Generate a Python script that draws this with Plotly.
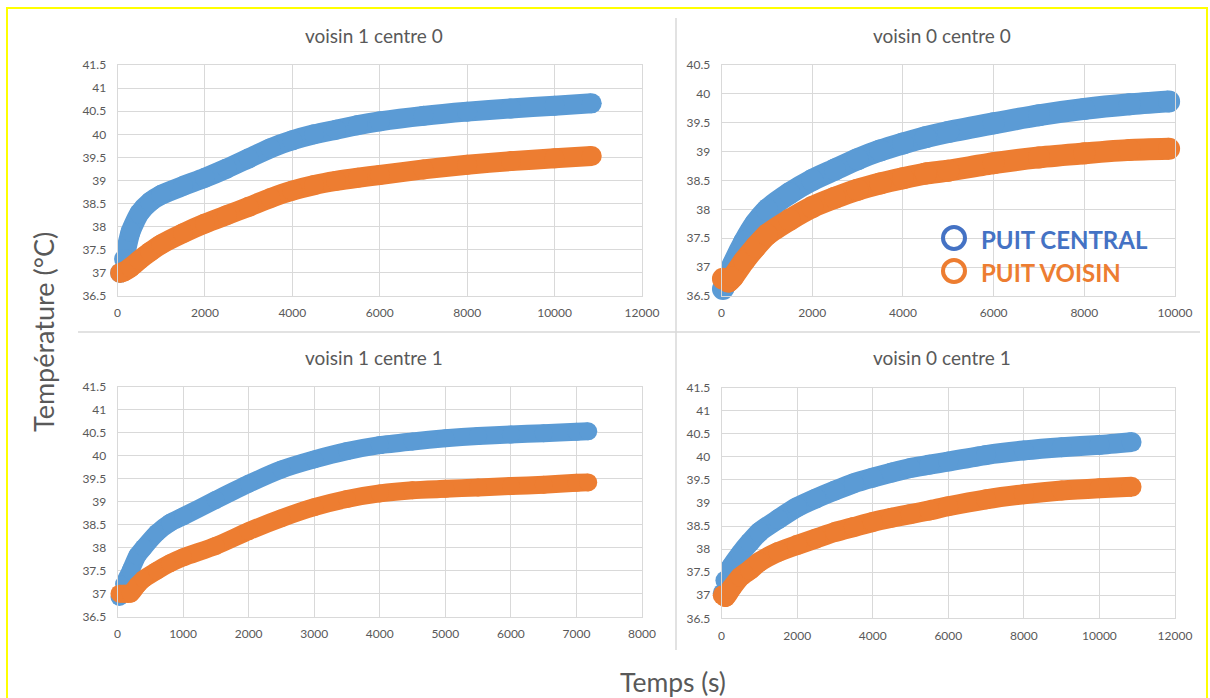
import plotly.graph_objects as go

# ---------------- data ----------------
panel_titles = ["voisin 1 centre 0", "voisin 0 centre 0", "voisin 1 centre 1", "voisin 0 centre 1"]
series_names = ["PUIT CENTRAL", "PUIT VOISIN"]

# voisin 1 centre 0
time_v1c0 = [60, 150, 300, 500, 750, 1000, 1500, 2000, 2500, 3000, 3500, 4000, 4500, 5000,
             5500, 6000, 7000, 8000, 9000, 10000, 10850]
central_v1c0 = [37.0, 37.30, 37.89, 38.29, 38.54, 38.69, 38.88, 39.06, 39.26, 39.48, 39.70, 39.87,
                40.00, 40.10, 40.20, 40.28, 40.40, 40.49, 40.56, 40.62, 40.67]
voisin_v1c0 = [37.0, 37.03, 37.12, 37.28, 37.46, 37.62, 37.86, 38.07, 38.25, 38.43, 38.62, 38.78,
               38.90, 38.99, 39.06, 39.12, 39.24, 39.34, 39.42, 39.48, 39.53]

# voisin 0 centre 0
time_v0c0 = [30, 150, 250, 500, 750, 1000, 1500, 2000, 2500, 3000, 3500, 4000, 4500, 5000,
             6000, 7000, 8000, 9000, 9870]
central_v0c0 = [36.62, 36.83, 37.04, 37.44, 37.76, 37.99, 38.28, 38.51, 38.69, 38.87, 39.02, 39.14,
                39.25, 39.34, 39.49, 39.63, 39.74, 39.82, 39.87]
voisin_v0c0 = [36.80, 36.75, 36.83, 37.11, 37.35, 37.56, 37.82, 38.04, 38.20, 38.34, 38.45, 38.54,
               38.62, 38.67, 38.80, 38.90, 38.97, 39.03, 39.05]

# voisin 1 centre 1
time_v1c1 = [30, 100, 200, 300, 400, 600, 800, 1000, 1500, 2000, 2500, 3000, 3500, 4000, 4500,
             5000, 5500, 6000, 6500, 7000, 7180]
central_v1c1 = [36.93, 37.21, 37.50, 37.82, 38.00, 38.32, 38.54, 38.68, 39.04, 39.39, 39.70, 39.92,
                40.10, 40.23, 40.31, 40.38, 40.43, 40.46, 40.49, 40.52, 40.53]
voisin_v1c1 = [37.0, 37.0, 37.0, 37.18, 37.32, 37.50, 37.66, 37.79, 38.04, 38.36, 38.64, 38.88,
               39.06, 39.18, 39.25, 39.28, 39.31, 39.34, 39.37, 39.41, 39.42]

# voisin 0 centre 1
time_v0c1 = [30, 100, 250, 500, 750, 1000, 1500, 2000, 2500, 3000, 3500, 4000, 4500, 5000, 5500,
             6000, 7000, 8000, 9000, 10000, 10850]
central_v0c1 = [37.04, 37.32, 37.61, 37.90, 38.15, 38.37, 38.65, 38.91, 39.10, 39.27, 39.43, 39.55,
                39.66, 39.76, 39.83, 39.90, 40.04, 40.14, 40.21, 40.26, 40.32]
voisin_v0c1 = [37.0, 36.96, 37.14, 37.40, 37.55, 37.72, 37.94, 38.09, 38.23, 38.37, 38.48, 38.59,
               38.68, 38.76, 38.84, 38.93, 39.08, 39.19, 39.27, 39.32, 39.35]

# tick labels
y_ticks_415 = [36.5, 37, 37.5, 38, 38.5, 39, 39.5, 40, 40.5, 41, 41.5]
y_labels_415 = ["36.5", "37", "37.5", "38", "38.5", "39", "39.5", "40", "40.5", "41", "41.5"]
y_ticks_405 = [36.5, 37, 37.5, 38, 38.5, 39, 39.5, 40, 40.5]
y_labels_405 = ["36.5", "37", "37.5", "38", "38.5", "39", "39.5", "40", "40.5"]
x_ticks_12000 = [0, 2000, 4000, 6000, 8000, 10000, 12000]
x_labels_12000 = ["0", "2000", "4000", "6000", "8000", "10000", "12000"]
x_ticks_10000 = [0, 2000, 4000, 6000, 8000, 10000]
x_labels_10000 = ["0", "2000", "4000", "6000", "8000", "10000"]
x_ticks_8000 = [0, 1000, 2000, 3000, 4000, 5000, 6000, 7000, 8000]
x_labels_8000 = ["0", "1000", "2000", "3000", "4000", "5000", "6000", "7000", "8000"]

# ---------------- figure ----------------
W, H = 1210, 698
def px(x):
    return x / W
def py(y):
    return 1 - y / H

BLUE = "#5B9BD5"
ORANGE = "#ED7D31"
GRID = "#D9D9D9"
TXT = "#595959"
FONT = "Lato"

panels = [
    dict(t=time_v1c0, c=central_v1c0, v=voisin_v1c0, xr=[0, 12000], xt=(x_ticks_12000, x_labels_12000),
         yr=[36.5, 41.5], yt=(y_ticks_415, y_labels_415), box=(117.5, 642, 65, 296), title_xy=(374, 35), lw=20),
    dict(t=time_v0c0, c=central_v0c0, v=voisin_v0c0, xr=[0, 10000], xt=(x_ticks_10000, x_labels_10000),
         yr=[36.5, 40.5], yt=(y_ticks_405, y_labels_405), box=(721.6, 1175, 65, 296), title_xy=(942, 35), lw=22),
    dict(t=time_v1c1, c=central_v1c1, v=voisin_v1c1, xr=[0, 8000], xt=(x_ticks_8000, x_labels_8000),
         yr=[36.5, 41.5], yt=(y_ticks_415, y_labels_415), box=(117.5, 642, 386.7, 616.7), title_xy=(374, 357), lw=18),
    dict(t=time_v0c1, c=central_v0c1, v=voisin_v0c1, xr=[0, 12000], xt=(x_ticks_12000, x_labels_12000),
         yr=[36.5, 41.5], yt=(y_ticks_415, y_labels_415), box=(721.6, 1175, 387.7, 618.3), title_xy=(942, 357), lw=20),
]

fig = go.Figure()
layout = dict(
    width=W, height=H, margin=dict(l=0, r=0, t=0, b=0, pad=0, autoexpand=False),
    paper_bgcolor="white", plot_bgcolor="white", showlegend=False,
    font=dict(family=FONT, color=TXT),
)
annotations = []
shapes = []

for i, p in enumerate(panels, start=1):
    sfx = "" if i == 1 else str(i)
    x0, x1, y0, y1 = p["box"]
    LW = p["lw"]
    for vals, col in ((p["c"], BLUE), (p["v"], ORANGE)):
        fig.add_trace(go.Scatter(
            x=p["t"], y=vals, mode="lines+markers",
            line=dict(color=col, width=LW, shape="spline", smoothing=0.6),
            marker=dict(color=col, size=LW),
            xaxis="x" + sfx, yaxis="y" + sfx, cliponaxis=False, hoverinfo="skip",
        ))
    layout["xaxis" + sfx] = dict(
        domain=[px(x0), px(x1)], range=p["xr"], anchor="y" + sfx, automargin=False,
        tickvals=p["xt"][0], ticktext=p["xt"][1], showgrid=True, gridcolor=GRID, gridwidth=1,
        zeroline=False, showline=True, linecolor=GRID, mirror=True, ticks="",
        tickfont=dict(family=FONT, size=12, color=TXT), ticklabelstandoff=6, fixedrange=True,
    )
    layout["yaxis" + sfx] = dict(
        domain=[py(y1), py(y0)], range=p["yr"], anchor="x" + sfx, automargin=False,
        tickvals=p["yt"][0], ticktext=p["yt"][1], showgrid=True, gridcolor=GRID, gridwidth=1,
        zeroline=False, showline=True, linecolor=GRID, mirror=True, ticks="",
        tickfont=dict(family=FONT, size=12, color=TXT), ticklabelstandoff=8, fixedrange=True,
    )
    tx, ty = p["title_xy"]
    annotations.append(dict(
        text=panel_titles[i - 1], x=px(tx), y=py(ty), xref="paper", yref="paper",
        xanchor="center", yanchor="middle", showarrow=False,
        font=dict(family=FONT, size=19, color=TXT),
    ))

# axis titles
annotations.append(dict(text="Température (°C)", x=px(44), y=py(332), xref="paper", yref="paper",
                        textangle=-90, xanchor="center", yanchor="middle", showarrow=False,
                        font=dict(family=FONT, size=27, color=TXT)))
annotations.append(dict(text="Temps (s)", x=px(673), y=py(682), xref="paper", yref="paper",
                        xanchor="center", yanchor="middle", showarrow=False,
                        font=dict(family=FONT, size=26.5, color=TXT)))

# legend (drawn manually)
LEG_BLUE = "#4472C4"
for name, col, cy in ((series_names[0], LEG_BLUE, 238), (series_names[1], ORANGE, 271)):
    shapes.append(dict(type="circle", xref="paper", yref="paper",
                       x0=px(954 - 11), x1=px(954 + 11), y0=py(cy + 11), y1=py(cy - 11),
                       line=dict(color=col, width=4), fillcolor="rgba(0,0,0,0)"))
    annotations.append(dict(text="<b>" + name + "</b>", x=px(979), y=py(cy + 1), xref="paper", yref="paper",
                            xanchor="left", yanchor="middle", showarrow=False,
                            font=dict(family=FONT, size=24, color=col)))

# separators between chart panels
shapes.append(dict(type="line", xref="paper", yref="paper", x0=px(78), x1=px(1200), y0=py(332), y1=py(332),
                   line=dict(color="#D9D9D9", width=1.5)))
shapes.append(dict(type="line", xref="paper", yref="paper", x0=px(676), x1=px(676), y0=py(18), y1=py(650),
                   line=dict(color="#D9D9D9", width=1.5)))
# yellow outer frame
shapes.append(dict(type="rect", xref="paper", yref="paper", x0=px(7), x1=px(1207), y0=py(708), y1=py(8),
                   line=dict(color="#FFFF00", width=2), fillcolor="rgba(0,0,0,0)"))

layout["annotations"] = annotations
layout["shapes"] = shapes
fig.update_layout(**layout)

fig.write_html("out.html", config={"displayModeBar": False},
               post_script="document.body.style.margin='0';document.body.style.overflow='hidden';")
